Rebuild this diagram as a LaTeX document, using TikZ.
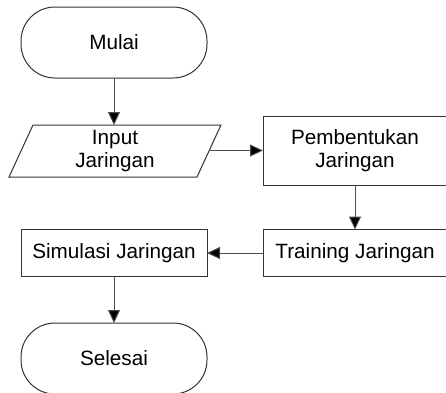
\documentclass[tikz,border=0pt]{standalone}
\usepackage{fontspec}
\setmainfont{Liberation Sans}
\usetikzlibrary{arrows.meta,calc}
\begin{document}
\begin{tikzpicture}[x=1pt,y=-1pt,
  every node/.style={font=\fontsize{20.7}{23}\selectfont, align=center, inner sep=0pt, outer sep=0pt},
  shapeline/.style={draw=black!80, line width=1pt},
  term/.style={shapeline, minimum width=186pt, minimum height=71pt, rounded corners=34pt},
  procbox/.style={shapeline, minimum width=184pt},
  arr/.style={draw=black!70, line width=1pt, -{Triangle[length=13pt,width=12pt,fill=black]}}
]
\useasboundingbox (0,0) rectangle (446,392);
\clip (0,0) rectangle (446,392);
\node[term] (mulai) at (114,42.5) {Mulai};
\draw[shapeline] (33,125) -- (221,125) -- (197,177) -- (9,177) -- cycle;
\node[minimum width=160pt, minimum height=52pt] (input) at (115,151) {Input\\Jaringan};
\coordinate (inright) at (209,150.5);
\node[procbox, minimum height=69pt] (pemb) at (355,150.5) {Pembentukan\\Jaringan};
\node[procbox, minimum height=47pt] (train) at (355,253) {Training Jaringan};
\node[shapeline, minimum width=186pt, minimum height=47pt] (sim) at (114,253) {Simulasi Jaringan};
\node[term] (selesai) at (114,358.5) {Selesai};
\draw[arr] (mulai) -- (mulai |- input.north);
\draw[arr] (inright) -- (pemb.west);
\draw[arr] (pemb) -- (train);
\draw[arr] (train) -- (sim);
\draw[arr] (sim) -- (selesai);
\end{tikzpicture}
\end{document}
